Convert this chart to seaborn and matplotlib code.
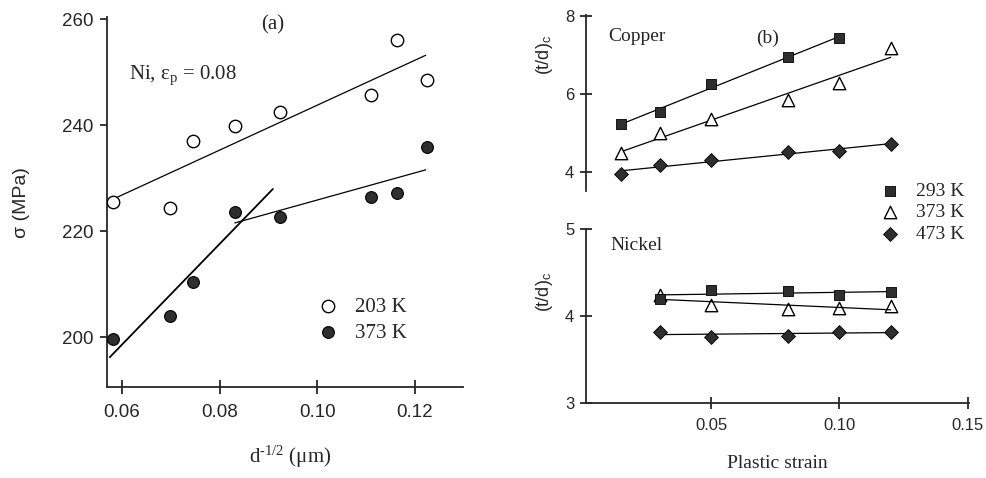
import numpy as np
import pandas as pd
import matplotlib
matplotlib.use("Agg")
import matplotlib.pyplot as plt
import seaborn as sns

# ---------------- data ----------------
# Panel (a): Ni, eps_p = 0.08, flow stress vs d^-1/2
a_x = [0.0582, 0.0698, 0.0745, 0.0831, 0.0923, 0.1110, 0.1163, 0.1224]
a_203K = [225.5, 224.3, 237.0, 239.8, 242.5, 245.7, 256.0, 248.5]
a_373K = [199.6, 204.0, 210.4, 223.6, 222.6, 226.4, 227.2, 235.9]
# fit ranges (x extent of the drawn regression lines)
a_fit203_x = [0.0582, 0.1222]
a_fit373_low_x = [0.0575, 0.0909]   # fitted to first 4 points
a_fit373_high_x = [0.0831, 0.1222]  # fitted to last 5 points

# Panel (b): (t/d)c vs plastic strain
cu_x = [0.015, 0.03, 0.05, 0.08, 0.10, 0.12]
cu_293K = [5.23, 5.54, 6.26, 6.95, 7.44]          # no point at 0.12
cu_373K = [4.49, 5.00, 5.36, 5.85, 6.28, 7.18]
cu_473K = [3.95, 4.18, 4.31, 4.51, 4.54, 4.72]

ni_x = [0.03, 0.05, 0.08, 0.10, 0.12]
ni_293K = [4.20, 4.30, 4.29, 4.24, 4.28]
ni_373K = [4.24, 4.13, 4.08, 4.09, 4.11]
ni_473K = [3.82, 3.76, 3.77, 3.82, 3.82]

a_xticks = [0.06, 0.08, 0.10, 0.12]
a_xticklabels = ["0.06", "0.08", "0.10", "0.12"]
a_yticks = [200, 220, 240, 260]
b_xticks = [0.05, 0.10, 0.15]
b_xticklabels = ["0.05", "0.10", "0.15"]
cu_yticks = [4, 6, 8]
ni_yticks = [3, 4, 5]

# ---------------- style ----------------
sns.set_style("ticks")
plt.rcParams["font.family"] = ["Liberation Sans", "DejaVu Sans"]
plt.rcParams["mathtext.fontset"] = "custom"
plt.rcParams["mathtext.rm"] = "Liberation Serif"
plt.rcParams["mathtext.it"] = "Liberation Serif:italic"
plt.rcParams["axes.linewidth"] = 1.3
SERIF = ["Liberation Serif", "DejaVu Serif"]
SANS = ["Liberation Sans", "DejaVu Sans"]
DARK = "#2e2e2e"

W, H = 987, 478
fig = plt.figure(figsize=(W / 100, H / 100), dpi=100)


def px_axes(l, t, r, b):
    return fig.add_axes([l / W, 1 - b / H, (r - l) / W, (b - t) / H])


def fit_line(ax, xs, ys, xr, lw=0.9):
    k, c = np.polyfit(xs, ys, 1)
    xr = np.asarray(xr)
    sns.lineplot(x=xr, y=k * xr + c, ax=ax, color="black", lw=lw,
                 legend=False, errorbar=None, sort=False)


# ---------------- panel (a) ----------------
axa = px_axes(107, 17, 463, 387)
sns.scatterplot(x=a_x, y=a_203K, ax=axa, marker="o", s=80, color="white",
                edgecolor="black", linewidth=1.0, label="203 K", zorder=3)
sns.scatterplot(x=a_x, y=a_373K, ax=axa, marker="o", s=72, color=DARK,
                edgecolor="black", linewidth=0.8, label="373 K", zorder=3)
fit_line(axa, a_x, a_203K, a_fit203_x)
fit_line(axa, a_x[:4], a_373K[:4], a_fit373_low_x, lw=1.3)
fit_line(axa, a_x[3:], a_373K[3:], a_fit373_high_x)

axa.set_xlim(0.05693, 0.12983)
axa.set_ylim(190.57, 260.38)
axa.set_xticks(a_xticks)
axa.set_xticklabels(a_xticklabels)
axa.set_yticks(a_yticks)
axa.tick_params(axis="x", direction="inout", length=10, width=1.3, pad=7,
                labelsize=13.5)
axa.tick_params(axis="y", direction="out", length=5, width=1.3, pad=5,
                labelsize=13.5)
for lab in axa.get_xticklabels() + axa.get_yticklabels():
    lab.set_family(SANS)
sns.despine(ax=axa)
axa.set_xlabel("")
axa.set_ylabel("")
axa.text(0.466, 0.978, "(a)", transform=axa.transAxes, ha="center",
         va="center", fontsize=15, family=SERIF)
axa.text(0.062, 0.843, r"Ni, $\mathrm{\varepsilon_p}$ = 0.08",
         transform=axa.transAxes, ha="left", va="center", fontsize=15,
         family=SERIF)
leg_a = axa.legend(loc="upper left", bbox_to_anchor=((318 - 107) / 356, (387 - 297) / 370),
                   frameon=False, prop={"family": SERIF, "size": 15},
                   handlelength=1.0, handletextpad=0.8, labelspacing=0.32,
                   borderpad=0, borderaxespad=0)

fig.text(290 / W, 1 - 457 / H, r"d$^{\mathrm{\text{-}1/2}}$ ($\mathrm{\mu}$m)",
         ha="center", va="center", fontsize=15, family=SERIF)
fig.text(22 / W, 1 - 203 / H, "σ (MPa)", rotation=90, ha="center",
         va="center", fontsize=14, family=SANS)

# ---------------- panel (b) top: Copper ----------------
axc = px_axes(586, 15, 969, 191)
sns.scatterplot(x=cu_x[:5], y=cu_293K, ax=axc, marker="s", s=55, color=DARK,
                edgecolor="black", linewidth=0.6, label="293 K", zorder=3)
sns.scatterplot(x=cu_x, y=cu_373K, ax=axc, marker="^", s=80, color="white",
                edgecolor="black", linewidth=1.0, label="373 K", zorder=3)
sns.scatterplot(x=cu_x, y=cu_473K, ax=axc, marker="D", s=50, color=DARK,
                edgecolor="black", linewidth=0.6, label="473 K", zorder=3)
fit_line(axc, cu_x[:5], cu_293K, [cu_x[0], cu_x[4]])
fit_line(axc, cu_x, cu_373K, [cu_x[0], cu_x[-1]])
fit_line(axc, cu_x, cu_473K, [cu_x[0], cu_x[-1]])
axc.set_xlim(0.0013, 0.1505)
axc.set_ylim(3.513, 8.026)
axc.set_yticks(cu_yticks)
axc.set_xticks([])
axc.tick_params(axis="y", direction="inout", length=9, width=1.3, pad=4,
                labelsize=12)
for lab in axc.get_yticklabels():
    lab.set_family(SANS)
sns.despine(ax=axc, bottom=True)
axc.set_xlabel("")
axc.set_ylabel("")
axc.text(0.473, 0.869, "(b)", transform=axc.transAxes, ha="center",
         va="center", fontsize=14, family=SERIF)
axc.text(0.057, 0.875, "Copper", transform=axc.transAxes, ha="left",
         va="center", fontsize=14, family=SERIF)
handles, labels = axc.get_legend_handles_labels()
if axc.get_legend():
    axc.get_legend().remove()

# ---------------- panel (b) bottom: Nickel ----------------
axn = px_axes(586, 229, 969, 403)
sns.scatterplot(x=ni_x, y=ni_293K, ax=axn, marker="s", s=55, color=DARK,
                edgecolor="black", linewidth=0.6, zorder=3, legend=False)
sns.scatterplot(x=ni_x, y=ni_373K, ax=axn, marker="^", s=80, color="white",
                edgecolor="black", linewidth=1.0, zorder=2, legend=False)
sns.scatterplot(x=ni_x, y=ni_473K, ax=axn, marker="D", s=50, color=DARK,
                edgecolor="black", linewidth=0.6, zorder=3, legend=False)
fit_line(axn, ni_x, ni_293K, [ni_x[0], ni_x[-1]])
fit_line(axn, ni_x, ni_373K, [ni_x[0], ni_x[-1]])
fit_line(axn, ni_x, ni_473K, [ni_x[0], ni_x[-1]])
axn.set_xlim(0.0013, 0.1505)
axn.set_ylim(3, 5)
axn.set_yticks(ni_yticks)
axn.set_xticks(b_xticks)
axn.set_xticklabels(b_xticklabels)
axn.tick_params(axis="x", direction="inout", length=9, width=1.3, pad=6,
                labelsize=12)
axn.tick_params(axis="y", direction="inout", length=9, width=1.3, pad=4,
                labelsize=12)
for lab in axn.get_xticklabels() + axn.get_yticklabels():
    lab.set_family(SANS)
sns.despine(ax=axn)
axn.set_xlabel("")
axn.set_ylabel("")
axn.text(0.063, 0.908, "Nickel", transform=axn.transAxes, ha="left",
         va="center", fontsize=14, family=SERIF)

fig.legend(handles, labels, loc="upper left",
           bbox_to_anchor=(880 / W, 1 - 182 / H), frameon=False,
           prop={"family": SERIF, "size": 14}, handlelength=1.0,
           handletextpad=0.85, labelspacing=0.2, borderpad=0,
           borderaxespad=0)

fig.text(777 / W, 1 - 463 / H, "Plastic strain", ha="center", va="center",
         fontsize=14, family=SERIF)
fig.text(545 / W, 1 - 55 / H, r"(t/d)$_{\mathregular{c}}$", rotation=90,
         ha="center", va="center", fontsize=13, family=SANS)
fig.text(545 / W, 1 - 292 / H, r"(t/d)$_{\mathregular{c}}$", rotation=90,
         ha="center", va="center", fontsize=13, family=SANS)

fig.savefig("out.png", dpi=100)
